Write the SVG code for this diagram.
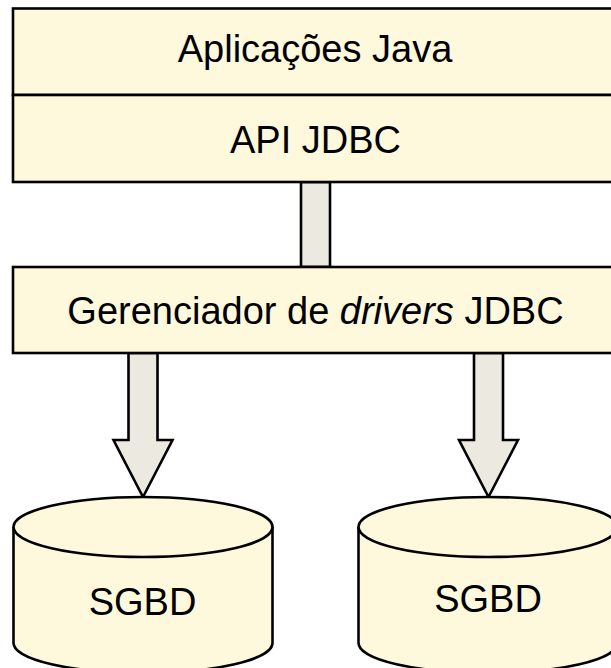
<svg xmlns="http://www.w3.org/2000/svg" width="611" height="668" viewBox="0 0 611 668">
  <style>
    .box { fill: #fef8dc; stroke: #000; stroke-width: 2.6; }
    .pipe { fill: #ece9e1; stroke: #000; stroke-width: 2.6; stroke-linejoin: miter; }
    .label { font-family: "Liberation Sans", Arial, sans-serif; font-size: 38px; fill: #000; text-anchor: middle; }
  </style>
  <rect width="611" height="668" fill="#fff"/>

  <!-- connectors -->
  <g id="connectors">
    <rect class="pipe" x="301" y="182" width="29" height="85"/>
    <polygon class="pipe" points="128.5,353 157.5,353 157.5,440 172.5,440 143,497 113.5,440 128.5,440"/>
    <polygon class="pipe" points="474,353 503,353 503,440 518,440 488.5,497 459,440 474,440"/>
  </g>

  <!-- application / API stack -->
  <g id="apps">
    <rect class="box" x="13" y="8.5" width="606" height="86.5"/>
    <text class="label" x="315" y="62">Aplicações Java</text>
  </g>
  <g id="api">
    <rect class="box" x="13" y="95" width="606" height="87"/>
    <text class="label" x="315.5" y="153">API JDBC</text>
  </g>

  <!-- driver manager -->
  <g id="manager">
    <rect class="box" x="13" y="267" width="606" height="86"/>
    <text class="label" x="315.5" y="324">Gerenciador de <tspan font-style="italic">drivers</tspan> JDBC</text>
  </g>

  <!-- databases -->
  <g id="db1">
    <path class="box" d="M13.5,527 A129.5,30 0 0 1 272.5,527 L272.5,643 A129.5,30 0 0 1 13.5,643 Z"/>
    <path class="box" fill="none" d="M13.5,527 A129.5,30 0 0 0 272.5,527"/>
    <text class="label" x="142.5" y="615">SGBD</text>
  </g>
  <g id="db2">
    <path class="box" d="M358.5,527 A129.5,30 0 0 1 617.5,527 L617.5,643 A129.5,30 0 0 1 358.5,643 Z"/>
    <path class="box" fill="none" d="M358.5,527 A129.5,30 0 0 0 617.5,527"/>
    <text class="label" x="488" y="612">SGBD</text>
  </g>
</svg>
